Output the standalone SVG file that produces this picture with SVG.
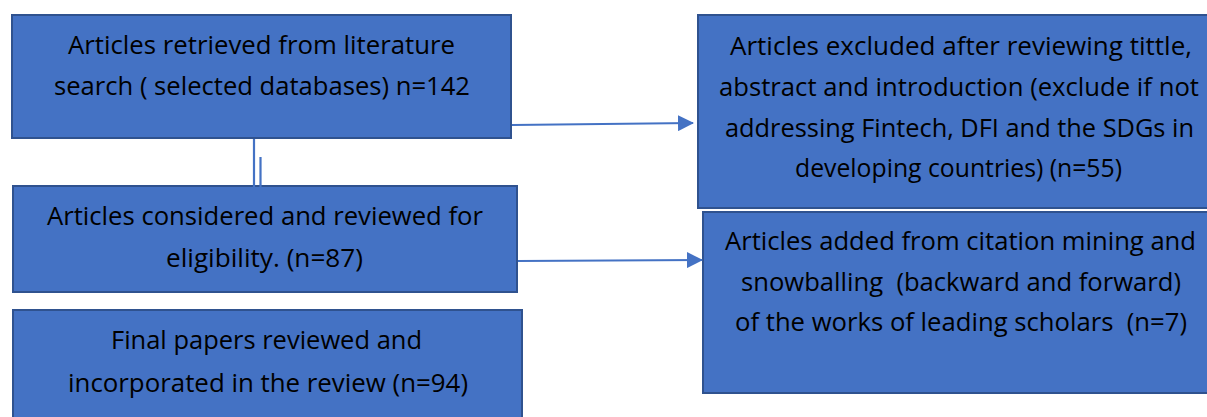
<svg xmlns="http://www.w3.org/2000/svg" width="1207" height="417" viewBox="0 0 1207 417">
<style>
.box{fill:#4472C4;stroke:#2F528F;stroke-width:2}
.t{font-family:"Open Sans",Lato,"Liberation Sans",sans-serif;font-size:25px;fill:#000;white-space:pre}
.c{stroke:#4472C4;stroke-width:2.2;fill:none}
</style>
<defs>
<marker id="ah" markerUnits="userSpaceOnUse" markerWidth="16" markerHeight="16" refX="15" refY="8" orient="auto" viewBox="0 0 16 16">
<path d="M0,0 L16,8 L0,16 Z" fill="#4472C4"/>
</marker>
</defs>
<rect width="1207" height="417" fill="#fff"/>
<g id="n1">
<rect class="box" x="12" y="15" width="499" height="123"/>
<text class="t" x="68" y="54" textLength="387" lengthAdjust="spacingAndGlyphs">Articles retrieved from literature</text>
<text class="t" x="54" y="95" textLength="416" lengthAdjust="spacingAndGlyphs">search ( selected databases) n=142</text>
</g>
<g id="n2">
<rect class="box" x="13" y="186" width="504" height="106"/>
<text class="t" x="47" y="225" textLength="436" lengthAdjust="spacingAndGlyphs">Articles considered and reviewed for</text>
<text class="t" x="166" y="267" textLength="197" lengthAdjust="spacingAndGlyphs">eligibility. (n=87)</text>
</g>
<g id="n3">
<rect class="box" x="13" y="310" width="509" height="120"/>
<text class="t" x="111" y="349" textLength="311" lengthAdjust="spacingAndGlyphs">Final papers reviewed and</text>
<text class="t" x="68" y="392" textLength="400" lengthAdjust="spacingAndGlyphs">incorporated in the review (n=94)</text>
</g>
<g id="n4">
<rect class="box" x="698" y="15" width="530" height="193"/>
<text class="t" x="730" y="55" textLength="462" lengthAdjust="spacingAndGlyphs">Articles excluded after reviewing tittle,</text>
<text class="t" x="719" y="96" textLength="480" lengthAdjust="spacingAndGlyphs">abstract and introduction (exclude if not</text>
<text class="t" x="725" y="137" textLength="469" lengthAdjust="spacingAndGlyphs">addressing Fintech, DFI and the SDGs in</text>
<text class="t" x="795" y="177" textLength="327" lengthAdjust="spacingAndGlyphs">developing countries) (n=55)</text>
</g>
<g id="n5">
<rect class="box" x="703" y="212" width="525" height="181"/>
<text class="t" x="725" y="250" textLength="471" lengthAdjust="spacingAndGlyphs">Articles added from citation mining and</text>
<text class="t" x="741" y="291" textLength="440" lengthAdjust="spacingAndGlyphs">snowballing  (backward and forward)</text>
<text class="t" x="735" y="331" textLength="452" lengthAdjust="spacingAndGlyphs">of the works of leading scholars  (n=7)</text>
</g>
<g id="connectors">
<line class="c" x1="254" y1="139" x2="254" y2="187"/>
<line class="c" x1="260.5" y1="157" x2="260.5" y2="187"/>
<line class="c" x1="512" y1="125" x2="693" y2="123" marker-end="url(#ah)"/>
<line class="c" x1="518" y1="261" x2="702" y2="260" marker-end="url(#ah)"/>
</g>
</svg>
